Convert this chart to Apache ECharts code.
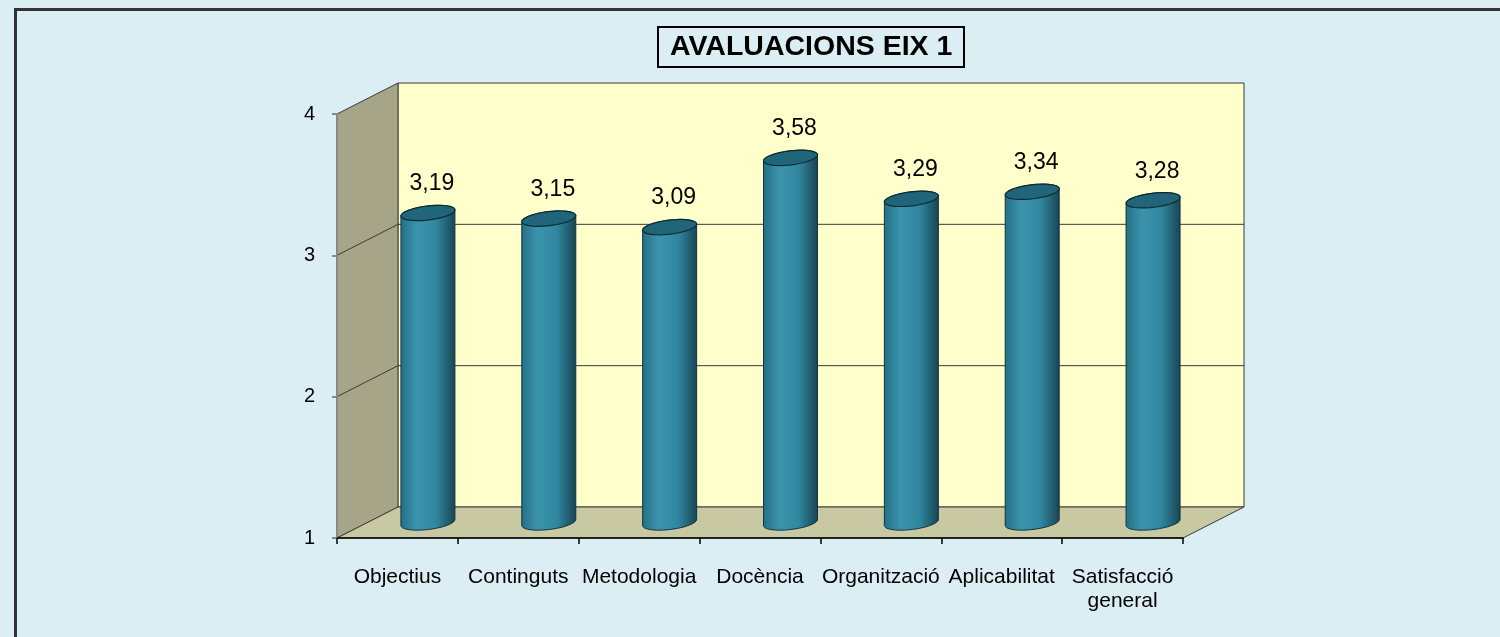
<!DOCTYPE html>
<html>
<head>
<meta charset="utf-8">
<title>Avaluacions EIX 1</title>
<script src="https://cdn.jsdelivr.net/npm/echarts/dist/echarts.min.js"></script>
<style>
  html, body { margin: 0; padding: 0; background: #dbeef4; }
  #main { width: 1500px; height: 637px; }
</style>
</head>
<body>
<div id="main"></div>
<script>
// dades
var categories = ['Objectius', 'Continguts', 'Metodologia', 'Docència', 'Organització', 'Aplicabilitat', 'Satisfacció\ngeneral'];
var values = [3.19, 3.15, 3.09, 3.58, 3.29, 3.34, 3.28];
var yMin = 1;
var yMax = 4;
var yStep = 1;
var gridValues = [2, 3];

(function () {
    var FONT = 'Arial, "Liberation Sans", sans-serif';
    // profunditat de la perspectiva (px)
    var DX = 61, DY = -31;
    var ROT = -0.12;

    function ellPt(cx, cy, rx, ry, t) {
        var ex = rx * Math.cos(t), ey = ry * Math.sin(t);
        return [cx + ex * Math.cos(ROT) - ey * Math.sin(ROT), cy + ex * Math.sin(ROT) + ey * Math.cos(ROT)];
    }

    //1
    var myChart = echarts.init(document.getElementById('main'));

    //2 parets, terra i linies de la graella
    function renderWalls(params, api) {
        var cs = params.coordSys;
        var x0 = cs.x, x1 = cs.x + cs.width;
        var yTop = api.coord([0, yMax])[1];
        var yBot = api.coord([0, yMin])[1];
        var edge = { stroke: '#3a3a3a', lineWidth: 1 };
        var children = [
            {
                type: 'polygon',
                shape: { points: [[x0 + DX, yTop + DY], [x1 + DX, yTop + DY], [x1 + DX, yBot + DY], [x0 + DX, yBot + DY]] },
                style: Object.assign({ fill: '#ffffcc' }, edge)
            },
            {
                type: 'polygon',
                shape: { points: [[x0, yTop], [x0 + DX, yTop + DY], [x0 + DX, yBot + DY], [x0, yBot]] },
                style: Object.assign({ fill: '#a6a588' }, edge)
            },
            {
                type: 'polygon',
                shape: { points: [[x0, yBot], [x1, yBot], [x1 + DX, yBot + DY], [x0 + DX, yBot + DY]] },
                style: Object.assign({ fill: '#c8c8a2' }, edge)
            }
        ];
        gridValues.forEach(function (v) {
            var y = api.coord([0, v])[1];
            children.push({
                type: 'polyline',
                shape: { points: [[x0, y], [x0 + DX, y + DY], [x1 + DX, y + DY]] },
                style: { stroke: '#3a3a3a', lineWidth: 1, fill: null }
            });
        });
        return { type: 'group', children: children };
    }

    // cilindres
    function renderCylinder(params, api) {
        var i = api.value(0), v = api.value(1);
        var top = api.coord([i, v]);
        var base = api.coord([i, yMin]);
        var cx = top[0] + DX / 2;
        var ty = top[1] + DY / 2;
        var by = base[1] + DY / 2;
        var rx = api.size([1, 0])[0] * 0.225;
        var ry = 7;
        var body = [], cap = [], k, t;
        for (k = 0; k <= 24; k++) {
            t = Math.PI * k / 24;
            body.push(ellPt(cx, by, rx, ry, t));
        }
        for (k = 0; k <= 24; k++) {
            t = Math.PI + Math.PI * k / 24;
            body.push(ellPt(cx, ty, rx, ry, t));
        }
        for (k = 0; k < 48; k++) {
            cap.push(ellPt(cx, ty, rx, ry, 2 * Math.PI * k / 48));
        }
        return {
            type: 'group',
            children: [
                {
                    type: 'polygon',
                    shape: { points: body },
                    style: {
                        fill: new echarts.graphic.LinearGradient(0, 0, 1, 0, [
                            { offset: 0, color: '#246f85' },
                            { offset: 0.3, color: '#3b94ad' },
                            { offset: 0.65, color: '#30869f' },
                            { offset: 1, color: '#184452' }
                        ]),
                        stroke: '#113540',
                        lineWidth: 1
                    }
                },
                {
                    type: 'polygon',
                    shape: { points: cap },
                    style: { fill: '#206579', stroke: '#0c2a33', lineWidth: 1.2 }
                },
                {
                    type: 'text',
                    style: {
                        text: v.toFixed(2).replace('.', ','),
                        x: cx + 4,
                        y: ty - 29,
                        align: 'center',
                        verticalAlign: 'middle',
                        fill: '#000',
                        font: '23px ' + FONT
                    }
                }
            ]
        };
    }

    var option = {
        backgroundColor: '#dbeef4',
        animation: false,
        title: {
            text: 'AVALUACIONS EIX 1',
            left: 658,
            top: 27,
            padding: [5, 12, 5, 12],
            borderColor: '#000',
            borderWidth: 2,
            textStyle: {
                color: '#000',
                fontFamily: FONT,
                fontWeight: 'bold',
                fontSize: 28.5,
                lineHeight: 30
            }
        },
        graphic: [
            {
                type: 'rect',
                shape: { x: 15.5, y: 9.5, width: 1600, height: 700 },
                style: { fill: null, stroke: '#333', lineWidth: 3 },
                z: 100
            }
        ],
        grid: {
            left: 337,
            right: 317,
            top: 114,
            bottom: 99
        },
        xAxis: {
            type: 'category',
            data: categories,
            boundaryGap: true,
            z: 5,
            axisLine: { lineStyle: { color: '#000', width: 1.5 } },
            axisTick: { show: true, length: 6, lineStyle: { color: '#000', width: 1.5 } },
            axisLabel: {
                interval: 0,
                color: '#000',
                fontFamily: FONT,
                fontSize: 21,
                lineHeight: 24,
                margin: 27
            }
        },
        yAxis: {
            type: 'value',
            min: yMin,
            max: yMax,
            interval: yStep,
            z: 5,
            splitLine: { show: false },
            axisLine: { show: true, lineStyle: { color: '#888', width: 2 } },
            axisTick: { show: true, length: 5, lineStyle: { color: '#888', width: 2 } },
            axisLabel: {
                color: '#000',
                fontFamily: FONT,
                fontSize: 20,
                margin: 22
            }
        },
        series: [
            {
                name: 'walls',
                type: 'custom',
                z: 1,
                silent: true,
                clip: false,
                renderItem: renderWalls,
                data: [[0, yMin]]
            },
            {
                name: 'Avaluacions',
                type: 'custom',
                z: 6,
                clip: false,
                renderItem: renderCylinder,
                encode: { x: 0, y: 1 },
                data: values.map(function (v, i) { return [i, v]; })
            }
        ]
    };

    //3
    myChart.setOption(option);
    window.addEventListener('resize', function () {
        myChart.resize();
    });
})();
</script>
</body>
</html>
